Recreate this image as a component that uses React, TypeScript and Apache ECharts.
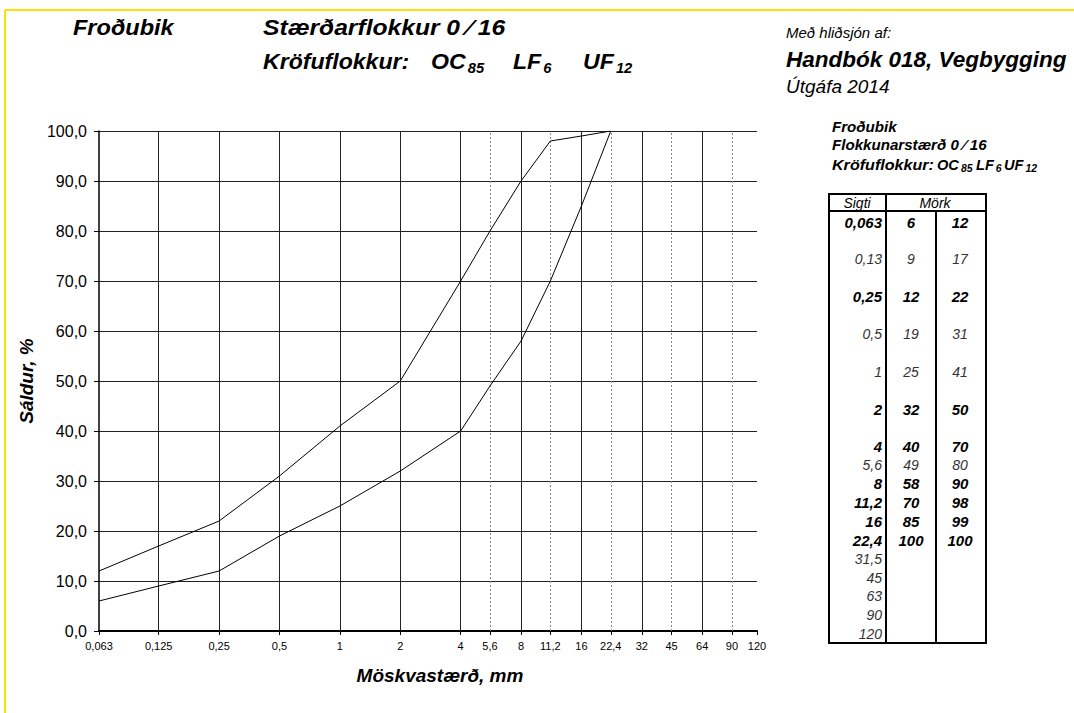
import React, { useEffect, useRef } from "react";
import * as echarts from "echarts";

// ---- data ----
const axisSieves = [0.063, 0.125, 0.25, 0.5, 1, 2, 4, 5.6, 8, 11.2, 16, 22.4, 32, 45, 64, 90, 120];
const intermediateSieves = [5.6, 11.2, 22.4, 45, 90];
const curveSieves = [0.063, 0.125, 0.25, 0.5, 1, 2, 4, 5.6, 8, 11.2, 16, 22.4];
const lowerLimit = [6, 9, 12, 19, 25, 32, 40, 49, 58, 70, 85, 100];
const upperLimit = [12, 17, 22, 31, 41, 50, 70, 80, 90, 98, 99, 100];
const yTicks = [0, 100, 10];

const tableSieveLabels = ["0,063", "0,13", "0,25", "0,5", "1", "2", "4", "5,6", "8", "11,2", "16", "22,4", "31,5", "45", "63", "90", "120"];
const tableLower = ["6", "9", "12", "19", "25", "32", "40", "49", "58", "70", "85", "100"];
const tableUpper = ["12", "17", "22", "31", "41", "50", "70", "80", "90", "98", "99", "100"];
const boldRows = [true, false, true, false, false, true, true, false, true, true, true, true, false, false, false, false, false];

const requirementLabels = ["OC", "LF", "UF"];
const requirementValues = ["85", "6", "12"];

const FONT = "'Liberation Sans', Arial, sans-serif";
const fmt = (v: number) => String(v).replace(".", ",");

function buildTable(): any[] {
  const els: any[] = [];
  const left = 829, right = 986, top = 194, bottom = 643, headBottom = 211;
  const c1 = 886, c2 = 936;
  els.push({ type: "rect", shape: { x: left, y: top, width: right - left, height: bottom - top }, style: { fill: "none", stroke: "#000", lineWidth: 2 } });
  els.push({ type: "line", shape: { x1: left, y1: headBottom, x2: right, y2: headBottom }, style: { stroke: "#000", lineWidth: 2 } });
  els.push({ type: "line", shape: { x1: c1, y1: top, x2: c1, y2: bottom }, style: { stroke: "#000", lineWidth: 2 } });
  els.push({ type: "line", shape: { x1: c2, y1: headBottom, x2: c2, y2: bottom }, style: { stroke: "#000", lineWidth: 2 } });
  const headStyle = { fontFamily: FONT, fontStyle: "italic", fontSize: 14, fill: "#000", align: "center", verticalAlign: "middle" };
  els.push({ type: "text", x: 857, y: 203, style: { ...headStyle, text: "Sigti" } });
  els.push({ type: "text", x: 935, y: 203, style: { ...headStyle, text: "Mörk" } });
  tableSieveLabels.forEach((lab, i) => {
    const y = i <= 6 ? 222 + i * 37.4 : 446.4 + (i - 6) * 18.75;
    const bold = boldRows[i];
    const st = {
      fontFamily: FONT, fontStyle: "italic", fontWeight: bold ? "bold" : "normal",
      fontSize: bold ? 15 : 14, fill: bold ? "#000" : "#333", verticalAlign: "middle",
    };
    els.push({ type: "text", x: 882, y, style: { ...st, text: lab, align: "right" } });
    if (tableLower[i] !== undefined) {
      els.push({ type: "text", x: 911, y, style: { ...st, text: tableLower[i], align: "center" } });
      els.push({ type: "text", x: 960, y, style: { ...st, text: tableUpper[i], align: "center" } });
    }
  });
  return els;
}

function subText(x: number, y: number, main: string, sub: string, size: number, subSize: number, drop: number, scaleX: number) {
  return {
    type: "text", x, y, scaleX,
    style: {
      text: `{m|${main}}{s|${sub}}`,
      verticalAlign: "middle",
      rich: {
        m: { fontFamily: FONT, fontStyle: "italic", fontWeight: "bold", fontSize: size, lineHeight: size + 4 },
        s: { fontFamily: FONT, fontStyle: "italic", fontWeight: "bold", fontSize: subSize, lineHeight: subSize, padding: [drop, 0, 0, 2] },
      },
    },
  };
}

export default function App() {
  const ref = useRef<HTMLDivElement>(null);
  useEffect(() => {
    if (!ref.current) return;
    const chart = echarts.init(ref.current, undefined, { renderer: "svg" });
    const tickVals = axisSieves.map((s) => Math.log2(s));
    const big = { fontFamily: FONT, fontStyle: "italic", fontWeight: "bold", fontSize: 22, fill: "#000", verticalAlign: "middle" };
    const small = { fontFamily: FONT, fontStyle: "italic", fontWeight: "bold", fontSize: 14, fill: "#000", verticalAlign: "middle" };
    const bigReqX = [431, 513, 583];
    const smallReqX = [937, 976, 1004];

    const option: any = {
      animation: false,
      backgroundColor: "#fff",
      grid: { left: 99, right: 317, top: 131, bottom: 82, containLabel: false, outerBoundsMode: "none" },
      xAxis: {
        type: "value",
        min: Math.log2(axisSieves[0]),
        max: Math.log2(axisSieves[axisSieves.length - 1]),
        name: "Möskvastærð, mm",
        nameLocation: "middle",
        nameGap: 35,
        nameTextStyle: { fontFamily: FONT, fontStyle: "italic", fontWeight: "bold", fontSize: 19, color: "#000", padding: [0, 0, 0, 24] },
        axisLine: { show: true, onZero: false, lineStyle: { color: "#000", width: 2 } },
        axisTick: { show: true, customValues: tickVals, length: 4, lineStyle: { color: "#000" } },
        axisLabel: {
          customValues: tickVals,
          margin: 9,
          fontSize: 11,
          fontFamily: FONT,
          color: "#000",
          formatter: (v: number) => {
            const s = axisSieves.find((x) => Math.abs(Math.log2(x) - v) < 1e-6);
            return s !== undefined ? fmt(s) : "";
          },
        },
        splitLine: { show: false },
      },
      yAxis: {
        type: "value",
        min: yTicks[0],
        max: yTicks[1],
        interval: yTicks[2],
        name: "Sáldur, %",
        nameLocation: "middle",
        nameRotate: 90,
        nameGap: 53,
        nameTextStyle: { fontFamily: FONT, fontStyle: "italic", fontWeight: "bold", fontSize: 19, color: "#000" },
        axisLine: { show: true, onZero: false, lineStyle: { color: "#000", width: 1.5 } },
        axisTick: { show: true, length: 5, lineStyle: { color: "#000" } },
        axisLabel: { margin: 12, fontSize: 16, fontFamily: FONT, color: "#000", formatter: (v: number) => v.toFixed(1).replace(".", ",") },
        splitLine: { show: true, lineStyle: { color: "#222", width: 1 } },
      },
      series: [
        {
          name: "Neðri mörk",
          type: "line",
          symbol: "none",
          data: curveSieves.map((s, i) => [Math.log2(s), lowerLimit[i]]),
          lineStyle: { color: "#000", width: 1 },
          z: 5,
          markLine: {
            silent: true,
            symbol: ["none", "none"],
            label: { show: false },
            z: 1,
            data: axisSieves.slice(1).map((s) => {
              const dashed = intermediateSieves.indexOf(s) >= 0;
              return {
                xAxis: Math.log2(s),
                lineStyle: dashed ? { color: "#888", type: [2, 2], width: 1 } : { color: "#222", type: "solid", width: 1 },
              };
            }),
          },
        },
        {
          name: "Efri mörk",
          type: "line",
          symbol: "none",
          data: curveSieves.map((s, i) => [Math.log2(s), upperLimit[i]]),
          lineStyle: { color: "#000", width: 1 },
          z: 5,
        },
      ],
      graphic: [
        { type: "line", shape: { x1: 5, y1: 10, x2: 1074, y2: 10 }, style: { stroke: "#FFE000", lineWidth: 2 } },
        { type: "line", shape: { x1: 5, y1: 10, x2: 5, y2: 713 }, style: { stroke: "#FFE000", lineWidth: 2 } },
        { type: "text", x: 73, y: 27, scaleX: 1.07, style: { ...big, text: "Froðubik" } },
        { type: "text", x: 263, y: 27, scaleX: 1.12, style: { ...big, text: "Stærðarflokkur 0 ⁄ 16" } },
        { type: "text", x: 263, y: 62, scaleX: 1.05, style: { ...big, text: "Kröfuflokkur:" } },
        ...requirementLabels.map((lab, i) => subText(bigReqX[i], 62, lab, requirementValues[i], 22, 14, 12, 1.05)),
        { type: "text", x: 786, y: 32, style: { fontFamily: FONT, fontStyle: "italic", fontSize: 15, fill: "#000", text: "Með hliðsjón af:", verticalAlign: "middle" } },
        { type: "text", x: 786, y: 59, style: { ...big, fontSize: 22.5, text: "Handbók 018, Vegbygging" } },
        { type: "text", x: 786, y: 86, style: { fontFamily: FONT, fontStyle: "italic", fontSize: 19, fill: "#000", text: "Útgáfa 2014", verticalAlign: "middle" } },
        { type: "text", x: 832, y: 127, scaleX: 1.08, style: { ...small, text: "Froðubik" } },
        { type: "text", x: 832, y: 145, scaleX: 1.08, style: { ...small, text: "Flokkunarstærð 0 ⁄ 16" } },
        { type: "text", x: 832, y: 165, scaleX: 1.15, style: { ...small, text: "Kröfuflokkur:" } },
        ...requirementLabels.map((lab, i) => subText(smallReqX[i], 165, lab, requirementValues[i], 14, 10, 7, 1.04)),
        ...buildTable(),
      ],
    };
    chart.setOption(option);
    return () => chart.dispose();
  }, []);
  return <div ref={ref} style={{ position: "absolute", left: 0, top: 0, width: 1074, height: 713 }} />;
}
